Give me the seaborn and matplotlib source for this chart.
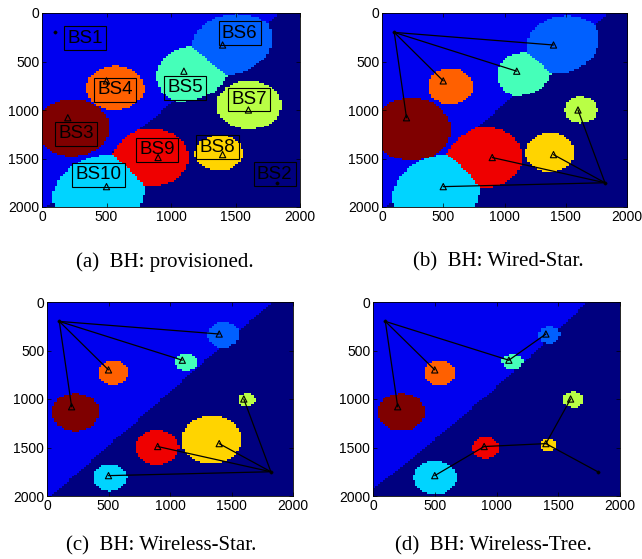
import numpy as np
import pandas as pd
import matplotlib
matplotlib.use("Agg")
import matplotlib.pyplot as plt
import seaborn as sns
from matplotlib.colors import LinearSegmentedColormap

sns.set_theme(style="white")
plt.rcParams['font.family'] = ['Liberation Sans', 'DejaVu Sans']

# ---------------- data ----------------
bs_names = ["BS1", "BS2", "BS3", "BS4", "BS5", "BS6", "BS7", "BS8", "BS9", "BS10"]
bs_x = [100, 1820, 200, 500, 1100, 1400, 1600, 1400, 900, 500]
bs_y = [200, 1750, 1080, 700, 600, 330, 1000, 1460, 1490, 1790]
bs_color_idx = [1, 0, 9, 7, 4, 2, 5, 6, 8, 3]   # index into jet (0..9)

# small-cell coverage radius (m) for BS3..BS10 in each panel
radius_a = [290, 225, 315, 350, 250, 185, 295, 370]
radius_b = [320, 185, 235, 330, 132, 200, 310, 370]
radius_c = [193, 123, 92, 132, 70, 246, 177, 140]
radius_d = [191, 125, 82, 87, 89, 68, 114, 185]
macro2_factor = [1.0, 1.0, 1.0, 1.06]
cell_shift = (25, 20)   # offset of small-cell coverage raster (m)

links_a = []
links_b = [("BS1", "BS3"), ("BS1", "BS4"), ("BS1", "BS5"), ("BS1", "BS6"),
           ("BS2", "BS7"), ("BS2", "BS8"), ("BS2", "BS9"), ("BS2", "BS10")]
links_c = [("BS1", "BS3"), ("BS1", "BS4"), ("BS1", "BS5"), ("BS1", "BS6"),
           ("BS2", "BS7"), ("BS2", "BS8"), ("BS2", "BS9"), ("BS2", "BS10")]
links_d = [("BS1", "BS3"), ("BS1", "BS4"), ("BS1", "BS5"), ("BS5", "BS6"),
           ("BS2", "BS8"), ("BS8", "BS7"), ("BS8", "BS9"), ("BS9", "BS10")]

captions = ["(a)  BH: provisioned.", "(b)  BH: Wired-Star.",
            "(c)  BH: Wireless-Star.", "(d)  BH: Wireless-Tree."]

label_x = [333, 1804, 266, 568, 1110, 1533, 1605, 1360, 890, 439]
label_y = [261, 1660, 1244, 790, 773, 210, 893, 1385, 1409, 1667]

ticks = [0, 500, 1000, 1500, 2000]

# ---------------- helpers ----------------
jet_m = LinearSegmentedColormap("jet_matlab", {
    'red':   [(0, 0, 0), (0.375, 0, 0), (0.625, 1, 1), (0.875, 1, 1), (1, 0.5, 0.5)],
    'green': [(0, 0, 0), (0.125, 0, 0), (0.375, 1, 1), (0.625, 1, 1), (0.875, 0, 0), (1, 0, 0)],
    'blue':  [(0, 0.5, 0.5), (0.125, 1, 1), (0.375, 1, 1), (0.625, 0, 0), (1, 0, 0)],
}, N=256)

N = 100
g = (np.arange(N) + 0.5) * (2000 / N)
GX, GY = np.meshgrid(g, g)


def coverage(radii, m2):
    bx = np.array(bs_x, float)
    by = np.array(bs_y, float)
    cx = bx.copy()
    cy = by.copy()
    cx[2:] += cell_shift[0]
    cy[2:] += cell_shift[1]
    dist = np.sqrt((GX[None] - cx[:, None, None]) ** 2 + (GY[None] - cy[:, None, None]) ** 2)
    k = np.ones(len(bx))
    k[1] = m2
    for i, r in enumerate(radii):
        j = i + 2
        D = min(np.hypot(cx[j] - cx[0], cy[j] - cy[0]), np.hypot(cx[j] - cx[1], cy[j] - cy[1]))
        k[j] = (-D + np.sqrt(D * D + 4 * r * r)) / (2 * r)
    owner = np.argmin(dist / k[:, None, None], axis=0)
    return np.array(bs_color_idx)[owner]


W, H = 642, 559
fig = plt.figure(figsize=(W / 100, H / 100), dpi=100)

# pixel boxes: left, top, right, bottom
boxes = [(42, 13, 300, 207), (382, 13, 627, 207), (47, 302, 293, 496), (373, 302, 620, 496)]
cap_pos = [(165, 262), (498, 262), (161, 546), (493, 546)]
radii_all = [radius_a, radius_b, radius_c, radius_d]
links_all = [links_a, links_b, links_c, links_d]

for p in range(4):
    l, t, r, b = boxes[p]
    ax = fig.add_axes([l / W, 1 - b / H, (r - l) / W, (b - t) / H])
    img = coverage(radii_all[p], macro2_factor[p])
    ax.imshow(img, cmap=jet_m, vmin=0, vmax=9, extent=[0, 2000, 2000, 0],
              interpolation='nearest', aspect='auto', zorder=0)

    rows = []
    for li, (a, c) in enumerate(links_all[p]):
        ia, ic = bs_names.index(a), bs_names.index(c)
        rows.append({"x": bs_x[ia], "y": bs_y[ia], "link": li})
        rows.append({"x": bs_x[ic], "y": bs_y[ic], "link": li})
    if rows:
        df = pd.DataFrame(rows)
        sns.lineplot(data=df, x="x", y="y", units="link", estimator=None, sort=False,
                     color="black", linewidth=0.9, ax=ax, legend=False)

    sns.scatterplot(x=bs_x[2:], y=bs_y[2:], marker="^", s=20, facecolors="none",
                    edgecolor="black", linewidth=0.8, ax=ax, legend=False, zorder=5)
    sns.scatterplot(x=bs_x[:2], y=bs_y[:2], marker="o", s=6, color="black",
                    edgecolor="black", ax=ax, legend=False, zorder=5)

    if p == 0:
        for name, tx, ty in zip(bs_names, label_x, label_y):
            ax.text(tx, ty, name, fontsize=13.5, ha="center", va="center", color="black",
                    bbox=dict(boxstyle="square,pad=0.18", fc="none", ec="black", lw=0.8),
                    zorder=6)

    ax.set_xlim(0, 2000)
    ax.set_ylim(2000, 0)
    ax.set_xticks(ticks)
    ax.set_yticks(ticks)
    ax.set_xticklabels([str(v) for v in ticks], fontsize=10)
    ax.set_yticklabels([str(v) for v in ticks], fontsize=10)
    ax.set_xlabel("")
    ax.set_ylabel("")
    ax.tick_params(direction="in", length=3, width=0.5, top=True, right=True,
                   bottom=True, left=True, pad=2, colors="black")
    for s in ax.spines.values():
        s.set_visible(True)
        s.set_color("black")
        s.set_linewidth(0.6)
    ax.grid(False)

    fig.text(cap_pos[p][0] / W, 1 - cap_pos[p][1] / H, captions[p], ha="center", va="center",
             fontsize=15, family=["Liberation Serif", "DejaVu Serif"], color="black")

fig.savefig("out.png", dpi=100)
